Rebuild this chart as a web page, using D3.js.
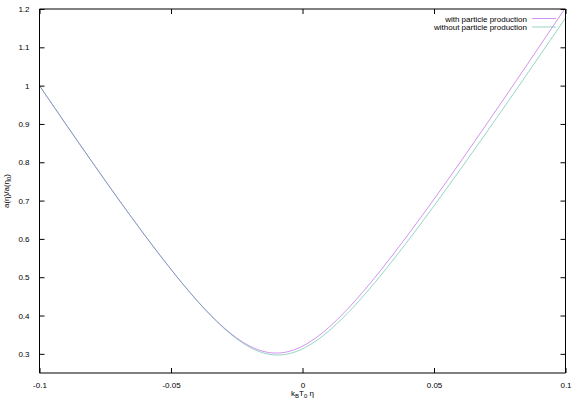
<!DOCTYPE html>
<html><head><meta charset="utf-8">
<script src="https://cdn.jsdelivr.net/npm/d3@7"></script>
<style>
html,body{margin:0;padding:0;background:#fff;}
text{font-family:"Liberation Sans",Arial,sans-serif;font-size:8px;fill:#000;}
</style></head>
<body><svg id="c" width="581" height="407"></svg>
<script>
// data
const etaValues = [-0.100,-0.095,-0.090,-0.085,-0.080,-0.075,-0.070,-0.065,-0.060,-0.055,-0.050,-0.045,-0.040,-0.035,-0.030,-0.025,-0.020,-0.015,-0.010,-0.005,0.000,0.005,0.010,0.015,0.020,0.025,0.030,0.035,0.040,0.045,0.050,0.055,0.060,0.065,0.070,0.075,0.080,0.085,0.090,0.095,0.100];
const withProduction = [1.000,0.9497,0.8996,0.8499,0.8006,0.7518,0.7036,0.6562,0.6097,0.5643,0.5203,0.4782,0.4384,0.4017,0.3689,0.3412,0.3200,0.3066,0.3020,0.3066,0.3200,0.3412,0.3689,0.4017,0.4384,0.4782,0.5203,0.5643,0.6097,0.6562,0.7036,0.7518,0.8006,0.8499,0.8996,0.9497,1.0000,1.0506,1.1015,1.1525,1.2037];
const withoutProduction = [0.9999,0.9496,0.8997,0.8501,0.8009,0.7521,0.7040,0.6565,0.6099,0.5645,0.5204,0.4780,0.4378,0.4007,0.3674,0.3390,0.3170,0.3026,0.2970,0.3007,0.3130,0.3331,0.3596,0.3913,0.4269,0.4657,0.5068,0.5498,0.5942,0.6398,0.6862,0.7334,0.7813,0.8296,0.8783,0.9274,0.9768,1.0264,1.0763,1.1264,1.1766];
const xTicks = [-0.1,-0.05,0,0.05,0.1];
const xTickLabels = ["-0.1","-0.05","0","0.05","0.1"];
const yTicks = [0.3,0.4,0.5,0.6,0.7,0.8,0.9,1.0,1.1,1.2];
const yTickLabels = ["0.3","0.4","0.5","0.6","0.7","0.8","0.9","1","1.1","1.2"];
const seriesNames = ["with particle production","without particle production"];
const seriesColors = ["#9400d3","#009e73"];

const svg = d3.select("#c");
const L = 39.5, R = 565.5, T = 9, B = 373;
const x = d3.scaleLinear().domain([-0.1,0.1]).range([L,R]);
const y = d3.scaleLinear().domain([0.25,1.2]).range([B,T]);

svg.append("defs").append("clipPath").attr("id","clip")
  .append("rect").attr("x",L).attr("y",T).attr("width",R-L).attr("height",B-T);

// curves
const series = [withProduction, withoutProduction];
const line = d3.line().x(d=>x(d[0])).y(d=>y(d[1])).curve(d3.curveNatural);
series.forEach((vals,i)=>{
  svg.append("path")
    .datum(etaValues.map((e,j)=>[e,vals[j]]))
    .attr("d",line).attr("fill","none")
    .attr("stroke",seriesColors[i]).attr("stroke-width",1).attr("stroke-opacity",0.42)
    .attr("clip-path","url(#clip)");
});

// border
const bg = svg.append("g").attr("stroke","#000").attr("stroke-width",1).attr("fill","none");
bg.append("line").attr("x1",L).attr("x2",L).attr("y1",T).attr("y2",B);
bg.append("line").attr("x1",R).attr("x2",R).attr("y1",T).attr("y2",B);
bg.append("line").attr("x1",L).attr("x2",R).attr("y1",T).attr("y2",T);
bg.append("line").attr("x1",L).attr("x2",R).attr("y1",B).attr("y2",B);

// axes (ticks inward, mirrored)
const tl = 5;
const axB = d3.axisBottom(x).tickValues(xTicks).tickSizeInner(-tl).tickSizeOuter(0).tickPadding(tl+4).tickFormat((d,i)=>xTickLabels[i]);
const axL = d3.axisLeft(y).tickValues(yTicks).tickSizeInner(-tl).tickSizeOuter(0).tickPadding(tl+5).tickFormat((d,i)=>yTickLabels[i]);
const axT = d3.axisTop(x).tickValues(xTicks).tickSizeInner(-tl).tickSizeOuter(0).tickFormat("");
const axR = d3.axisRight(y).tickValues(yTicks).tickSizeInner(-tl).tickSizeOuter(0).tickFormat("");
function style(g){
  g.select(".domain").remove();
  g.selectAll(".tick line").attr("stroke","#000").attr("stroke-width",1);
  g.selectAll(".tick text").attr("font-size",8).attr("font-family","Liberation Sans, Arial, sans-serif").attr("fill","#000");
}
svg.append("g").attr("transform",`translate(0,${B})`).call(axB).call(style);
svg.append("g").attr("transform",`translate(${L},0)`).call(axL).call(style);
svg.append("g").attr("transform",`translate(0,${T})`).call(axT).call(style);
svg.append("g").attr("transform",`translate(${R},0)`).call(axR).call(style);

// axis titles
const xt = svg.append("text").attr("x",x(0)).attr("y",396).attr("text-anchor","middle");
xt.append("tspan").text("k");
xt.append("tspan").attr("font-size",6).attr("dy",2).text("B");
xt.append("tspan").attr("dy",-2).text("T");
xt.append("tspan").attr("font-size",6).attr("dy",2).text("0");
xt.append("tspan").attr("dy",-2).text(" η");

const yt = svg.append("text").attr("transform",`translate(9,${(T+B)/2}) rotate(-90)`).attr("text-anchor","middle");
yt.append("tspan").text("a(η)/a(η");
yt.append("tspan").attr("font-size",6).attr("dy",2).text("0");
yt.append("tspan").attr("dy",-2).text(")");

// legend
const legY = [18.5, 27];
seriesNames.forEach((n,i)=>{
  svg.append("text").attr("x",527).attr("y",legY[i]+3).attr("text-anchor","end").text(n);
  svg.append("line").attr("x1",532).attr("x2",556).attr("y1",legY[i]).attr("y2",legY[i])
    .attr("stroke",seriesColors[i]).attr("stroke-width",1).attr("stroke-opacity",0.42);
});
</script></body></html>
